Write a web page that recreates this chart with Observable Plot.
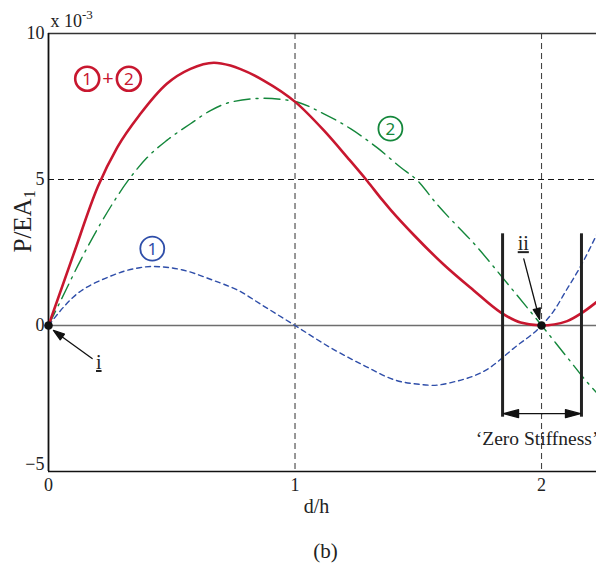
<!DOCTYPE html>
<html><head><meta charset="utf-8">
<script src="https://cdn.jsdelivr.net/npm/d3@7"></script>
<script src="https://cdn.jsdelivr.net/npm/@observablehq/plot@0.6"></script>
<style>
body{margin:0;background:#fff}
#chart svg{display:block;overflow:hidden}
</style></head><body><div id="chart"></div>
<script>
// ---- data (P/EA1 in units of 1e-3 vs d/h) ----
const curve1X = [0, 0.10, 0.24, 0.37, 0.42, 0.54, 0.67, 0.77, 0.87, 1.0, 1.14, 1.28, 1.41, 1.51, 1.56, 1.64, 1.78, 1.89, 2.0, 2.05, 2.1, 2.16, 2.223];
const curve1Y = [0, 0.97, 1.65, 1.98, 2.02, 1.91, 1.54, 1.2, 0.68, 0.0, -0.74, -1.37, -1.88, -2.02, -2.05, -1.94, -1.5, -0.76, 0, 0.5, 1.2, 2.05, 3.1];

const curve2X = [0, 0.05, 0.13, 0.21, 0.326, 0.4, 0.48, 0.576, 0.657, 0.74, 0.873, 0.995, 1.117, 1.225, 1.333, 1.428, 1.496, 1.574, 1.735, 1.875, 1.996, 2.104, 2.185, 2.223];
const curve2Y = [0, 0.86, 2.23, 3.47, 5.0, 5.75, 6.34, 6.91, 7.36, 7.65, 7.78, 7.68, 7.25, 6.74, 6.09, 5.42, 4.97, 4.17, 2.72, 1.3, 0.05, -1.09, -1.94, -2.3];

const sumX = [0, 0.1, 0.2, 0.279, 0.373, 0.48, 0.576, 0.671, 0.738, 0.779, 0.873, 1.002, 1.117, 1.212, 1.293, 1.354, 1.387, 1.482, 1.604, 1.725, 1.834, 1.915, 2.0, 2.104, 2.162, 2.223];
const sumY = [0, 2.4, 4.75, 6.1, 7.25, 8.28, 8.79, 9.0, 8.9, 8.78, 8.39, 7.65, 6.68, 5.76, 4.95, 4.3, 3.97, 3.1, 2.08, 1.2, 0.45, 0.1, 0, 0.15, 0.42, 0.8];

const xTicks = [0, 1, 2];
const yTicks = [0, 5, 10];
const yTicksLow = [-5];
const xDomain = [0, 2.223];
const yDomain = [-5, 10];
const gridX = [1, 2];
const gridY = [5];

const pointsX = [0, 2];           // marked equilibrium points i and ii
const pointsY = [0, 0];
const barX = [1.842, 2.162];      // 'Zero Stiffness' band
const barY = [-3.14, 3.14];
const spanArrowY = [-3.02];

const circledText = ["1", "2", "2", "1"];
const circledX = [0.157, 0.326, 1.387, 0.421];
const circledY = [8.45, 8.45, 6.74, 2.63];
const circledSeries = ["sum", "sum", "two", "one"];

const pointLabels = ["i", "ii"];
const pointLabelX = [0.204, 1.926];
const pointLabelY = [-1.27, 2.8];
const pointerFromX = [0.177, 1.928];
const pointerFromY = [-1.13, 2.28];
const pointerToX = [0.02, 1.992];
const pointerToY = [-0.17, 0.21];

// ---- build ----
const W = 596, H = 567, mL = 48, mR = 0, mT = 33, mB = 96;
const serif = "Liberation Serif";
const sans = "Noto Sans";
const colors = {sum: "#c8172f", two: "#14873b", one: "#2f4ea9"};

const toPts = (X, Y) => X.map((x, i) => ({x, y: Y[i]}));
const s1 = toPts(curve1X, curve1Y);
const s2 = toPts(curve2X, curve2Y);
const s12 = toPts(sumX, sumY);
const circ = circledText.map((t, i) => ({t, x: circledX[i], y: circledY[i], s: circledSeries[i]}));
const labs = pointLabels.map((t, i) => ({t, x: pointLabelX[i], y: pointLabelY[i]}));

const kx = (W - mL - mR) / (xDomain[1] - xDomain[0]);
const ky = (H - mT - mB) / (yDomain[1] - yDomain[0]);
const headShape = (hl, hw) => ({
  draw(ctx, l) {
    ctx.moveTo(0, 0); ctx.lineTo(0, -l + hl);
    ctx.moveTo(0, -l); ctx.lineTo(-hw, -l + hl); ctx.lineTo(hw, -l + hl); ctx.closePath();
  }
});
function arrowMark(x1, y1, x2, y2, hl, hw, sw) {
  const dx = (x2 - x1) * kx, dy = -(y2 - y1) * ky;
  const len = Math.hypot(dx, dy);
  const rot = Math.atan2(dx, -dy) * 180 / Math.PI;
  return Plot.vector([{x: x2, y: y2}], {
    x: "x", y: "y", length: len, rotate: rot, anchor: "end",
    shape: headShape(hl, hw), stroke: "#111", fill: "#111", strokeWidth: sw
  });
}

const mid = (barX[0] + barX[1]) / 2;
const axisFont = {fontFamily: serif, fontSize: 18, fill: "#222"};
const marks = [
  // grid
  Plot.ruleX(gridX, {stroke: "#444", strokeWidth: 1.1, strokeDasharray: "6,4"}),
  Plot.ruleY(gridY, {stroke: "#111", strokeWidth: 1.1, strokeDasharray: "6,4"}),
  Plot.ruleY([0], {stroke: "#6e6e6e", strokeWidth: 1.7}),
  // frame
  Plot.ruleY([yDomain[1]], {stroke: "#333", strokeWidth: 1.6}),
  Plot.ruleY([yDomain[0]], {stroke: "#111", strokeWidth: 1.6}),
  Plot.ruleX([xDomain[0]], {stroke: "#111", strokeWidth: 1.8}),
  // curves
  Plot.line(s1, {x: "x", y: "y", curve: "monotone-x", stroke: colors.one, strokeWidth: 1.4, strokeDasharray: "5,4", clip: true}),
  Plot.line(s2, {x: "x", y: "y", curve: "monotone-x", stroke: colors.two, strokeWidth: 1.4, strokeDasharray: "16,6,2,6", clip: true}),
  Plot.line(s12, {x: "x", y: "y", curve: "monotone-x", stroke: colors.sum, strokeWidth: 2.6, clip: true}),
  // zero stiffness band
  Plot.ruleX(barX, {y1: barY[0], y2: barY[1], stroke: "#222", strokeWidth: 3}),
  arrowMark(mid, spanArrowY[0], barX[0] + 0.004, spanArrowY[0], 15, 4, 1.3),
  arrowMark(mid, spanArrowY[0], barX[1] - 0.004, spanArrowY[0], 15, 4, 1.3),
  Plot.text(["\u2018Zero Stiffness\u2019"], {x: mid - 0.02, y: spanArrowY[0], dy: 25, text: d => d, fontFamily: serif, fontSize: 19.5, fill: "#222"}),
  // point markers
  ...pointLabels.map((_, i) => arrowMark(pointerFromX[i], pointerFromY[i], pointerToX[i], pointerToY[i], 11, 3.6, 1.3)),
  Plot.dot(toPts(pointsX, pointsY), {x: "x", y: "y", r: 4.3, fill: "#111"}),
  Plot.text(labs, {x: "x", y: "y", text: "t", fontFamily: serif, fontSize: 20, fill: "#222"}),
  // circled series labels
  Plot.dot(circ, {x: "x", y: "y", r: 12, stroke: d => colors[d.s], strokeWidth: d => d.s === "sum" ? 2.6 : 1.8, fill: "white", fillOpacity: 0}),
  Plot.text(circ, {x: "x", y: "y", text: "t", fill: d => colors[d.s], fontFamily: sans, fontSize: 17, dy: 0.5}),
  Plot.text(["+"], {x: (circledX[0] + circledX[1]) / 2, y: circledY[0], text: d => d, fill: colors.sum, fontFamily: sans, fontSize: 20}),
  // axes
  Plot.axisX({ticks: xTicks, tickFormat: d => String(d), tickSize: 0, tickPadding: 7, label: null, ...axisFont}),
  Plot.axisY({ticks: yTicks, tickFormat: d => String(d), tickSize: 0, tickPadding: 4, label: null, ...axisFont}),
  Plot.axisY({ticks: yTicksLow, tickFormat: d => "\u2212" + Math.abs(d), tickSize: 0, tickPadding: 4, dy: -7, label: null, ...axisFont}),
  // axis titles
  Plot.text(["d/h"], {frameAnchor: "bottom-left", dx: 268, dy: 41, lineAnchor: "bottom", textAnchor: "middle", text: d => d, fontFamily: serif, fontSize: 20, fill: "#222"}),
  Plot.text(["(b)"], {frameAnchor: "bottom-left", dx: 277, dy: 86, lineAnchor: "bottom", textAnchor: "middle", text: d => d, fontFamily: serif, fontSize: 21, fill: "#222"}),
  Plot.text(["YLABEL"], {frameAnchor: "left", dx: -26, dy: 0, rotate: -90, text: d => d, fontFamily: serif, fontSize: 25, fill: "#222"}),
  Plot.text(["XPOW"], {frameAnchor: "top-left", dx: 2, dy: -7, lineAnchor: "bottom", textAnchor: "start", text: d => d, fontFamily: serif, fontSize: 18, fill: "#222"})
];

const chart = Plot.plot({
  width: W, height: H,
  marginLeft: mL, marginRight: mR, marginTop: mT, marginBottom: mB,
  x: {domain: xDomain},
  y: {domain: yDomain},
  style: {fontFamily: serif, fontSize: "18px", background: "white", color: "#222"},
  marks
});
document.getElementById("chart").appendChild(chart);

// rich text: subscript / superscript / underline
const NS = "http://www.w3.org/2000/svg";
chart.querySelectorAll("text").forEach(t => {
  const c = t.textContent;
  if (c === "YLABEL") {
    t.textContent = "P/EA";
    const s = document.createElementNS(NS, "tspan");
    s.setAttribute("dy", "0.3em"); s.setAttribute("font-size", "16");
    s.textContent = "1"; t.appendChild(s);
  } else if (c === "XPOW") {
    t.textContent = "x 10";
    const s = document.createElementNS(NS, "tspan");
    s.setAttribute("dy", "-0.55em"); s.setAttribute("font-size", "13");
    s.textContent = "-3"; t.appendChild(s);
  } else if (c === "i" || c === "ii") {
    t.setAttribute("text-decoration", "underline");
  }
});
</script></body></html>
